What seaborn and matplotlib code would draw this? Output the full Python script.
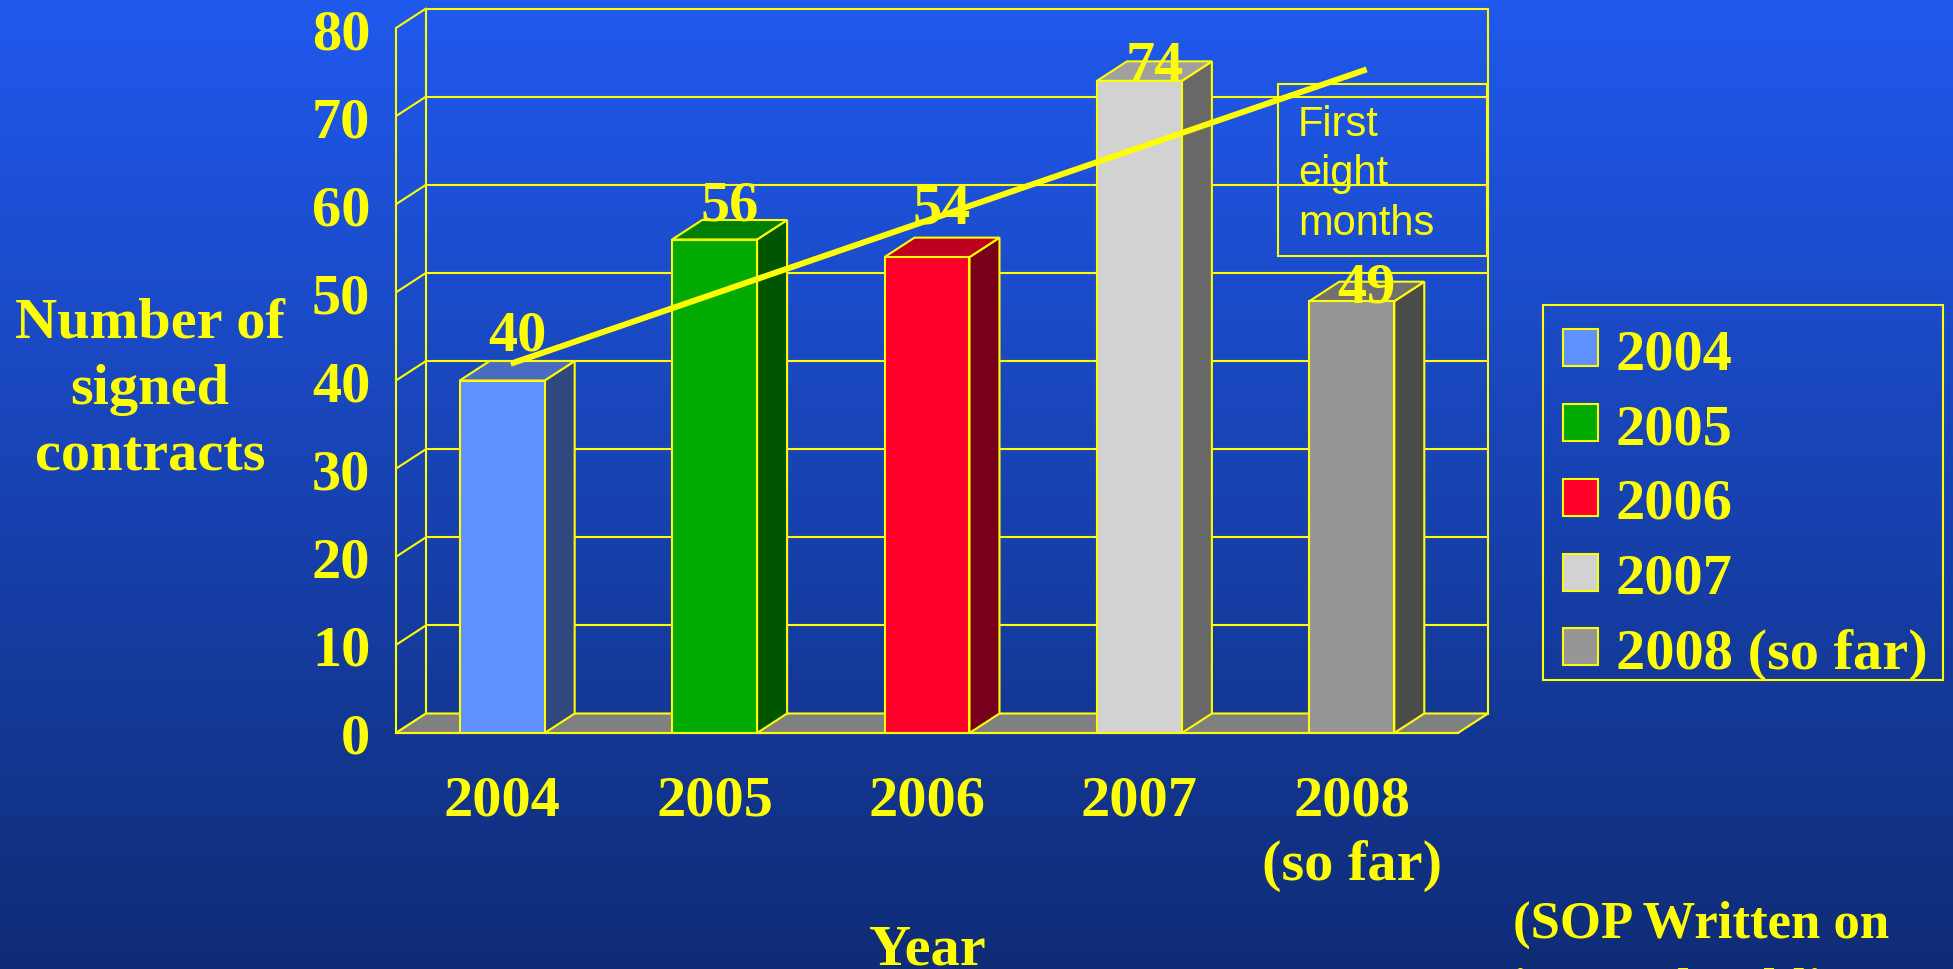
import numpy as np
import pandas as pd
import matplotlib
matplotlib.use("Agg")
import matplotlib.pyplot as plt
import seaborn as sns
from matplotlib.colors import LinearSegmentedColormap
from matplotlib.patches import Polygon, Patch, Rectangle


# data
years = ["2004", "2005", "2006", "2007", "2008\n(so far)"]
legend_labels = ["2004", "2005", "2006", "2007", "2008 (so far)"]
contracts = [40, 56, 54, 74, 49]
# labels on the slide were nudged by hand
label_lift = [3.5, 2.3, 3.9, 0.1, 0.0]
# hand drawn trend arrow (category index, value)
trend_x = [0.04, 4.07]
trend_y = [41.9, 75.3]

front_colors = ["#6190FF", "#00AA00", "#FF0028", "#D2D2D2", "#969696"]
side_colors = ["#30487E", "#005500", "#78001A", "#686868", "#4B4B4B"]
top_colors = ["#4A6CC0", "#008000", "#BE0020", "#A0A0A0", "#707070"]

YEL = "#FFFF00"
W, H = 1953, 970
FS = 42

sns.set_style("white")
plt.rcParams["font.family"] = ["Liberation Serif", "DejaVu Serif"]
plt.rcParams["font.weight"] = "bold"

df = pd.DataFrame({"year": years, "contracts": contracts})

fig = plt.figure(figsize=(W / 100, H / 100), dpi=100)

# gradient background
bg = fig.add_axes([0, 0, 1, 1], zorder=-10)
grad = np.linspace(0, 1, 256)[:, None]
bg.imshow(grad, aspect="auto", extent=[0, 1, 0, 1], origin="upper",
          cmap=LinearSegmentedColormap.from_list("bg", ["#2059EE", "#0F2C76"]))
bg.axis("off")

# front plane of the 3d box
ax = fig.add_axes([396 / W, (H - 734) / H, 1062 / W, 705 / H])
ax.set_facecolor("none")

sns.barplot(data=df, x="year", y="contracts", hue="year", palette=front_colors,
            width=0.4, saturation=1, legend=False, edgecolor=YEL, linewidth=1.5,
            ax=ax, zorder=4)

ax.set_xlim(-0.5, 4.5)
ax.set_ylim(0, 80)
n = len(years)

# depth of the fake 3d box in data units (30 px right, 19.5 px up)
ddx = 30 * (n / 1062)
ddy = 19.5 * (80 / 705)

# back wall, side wall and floor
for v in range(0, 81, 10):
    ax.plot([-0.5 + ddx, n - 0.5 + ddx], [v + ddy, v + ddy], color=YEL, lw=1.5,
            clip_on=False, zorder=1)
    ax.plot([-0.5, -0.5 + ddx], [v, v + ddy], color=YEL, lw=1.5, clip_on=False, zorder=1)
for xb in [-0.5 + ddx, n - 0.5 + ddx]:
    ax.plot([xb, xb], [ddy, 80 + ddy], color=YEL, lw=1.5, clip_on=False, zorder=1)
floor = Polygon([(-0.5, 0), (n - 0.5, 0), (n - 0.5 + ddx, ddy), (-0.5 + ddx, ddy)],
                closed=True, facecolor="#808080", edgecolor=YEL, lw=1.5,
                clip_on=False, zorder=2)
ax.add_patch(floor)

# sides and tops of the bars
for i, p in enumerate(list(ax.patches)[:n]):
    x0, w, v = p.get_x(), p.get_width(), p.get_height()
    x1 = x0 + w
    side = Polygon([(x1, 0), (x1 + ddx, ddy), (x1 + ddx, v + ddy), (x1, v)],
                   closed=True, facecolor=side_colors[i], edgecolor=YEL, lw=1.5,
                   clip_on=False, zorder=3)
    top = Polygon([(x0, v), (x1, v), (x1 + ddx, v + ddy), (x0 + ddx, v + ddy)],
                  closed=True, facecolor=top_colors[i], edgecolor=YEL, lw=1.5,
                  clip_on=False, zorder=3)
    ax.add_patch(side)
    ax.add_patch(top)
    ax.text(x0 + w / 2 + ddx / 2, v + label_lift[i], str(contracts[i]), ha="center",
            va="baseline", fontsize=FS, color=YEL, zorder=6)

ax.plot(trend_x, trend_y, color=YEL, lw=4.3, solid_capstyle="butt",
        clip_on=False, zorder=7)

# axes
for s in ["top", "right"]:
    ax.spines[s].set_visible(False)
for s in ["left", "bottom"]:
    ax.spines[s].set_color(YEL)
    ax.spines[s].set_linewidth(1.5)
    ax.spines[s].set_zorder(5)
ax.set_yticks(range(0, 81, 10))
ax.set_xticks(range(n))
ax.set_xticklabels(years, linespacing=1.3)
ax.set_xticks(np.arange(-0.5, n), minor=True)
ax.tick_params(axis="y", length=11.5, width=1.5, color=YEL, labelcolor=YEL,
               labelsize=FS, pad=7)
ax.tick_params(axis="x", which="major", length=0, labelcolor=YEL, labelsize=FS, pad=30)
ax.tick_params(axis="x", which="minor", length=11, width=1.5, color=YEL, direction="out")
ax.set_xlabel("")
ax.set_ylabel("")

fig.text(150 / W, 1 - 390 / H, "Number of\nsigned\ncontracts", ha="center",
         va="center", fontsize=FS, color=YEL, linespacing=1.36)
fig.text(927 / W, 1 - 965 / H, "Year", ha="center", va="baseline", fontsize=FS, color=YEL)
fig.text(1513 / W, 1 - 901 / H, "(SOP Written on\ninternal public", ha="left",
         va="top", fontsize=38, color=YEL, linespacing=1.5)

# note box
fig.patches.append(Rectangle((1278 / W, 1 - 257 / H), 209 / W, 172 / H,
                             transform=fig.transFigure, facecolor="none",
                             edgecolor=YEL, lw=1.5, zorder=5))
fig.text(1298 / W, 1 - 105 / H, "First\neight\nmonths", ha="left", va="top",
         fontsize=30, color=YEL, fontweight="normal",
         family=["Liberation Sans", "DejaVu Sans"], linespacing=1.30, zorder=6)

# legend box drawn separately so its size can match the slide
fig.patches.append(Rectangle((1543 / W, 1 - 681 / H), 400 / W, 375 / H,
                             transform=fig.transFigure, facecolor="none",
                             edgecolor=YEL, lw=1.5, zorder=5))
handles = [Patch(facecolor=c, edgecolor=YEL, lw=1.5) for c in front_colors]
leg = fig.legend(handles, legend_labels, loc="upper left",
                 bbox_to_anchor=(1543 / W, 1 - 309 / H), bbox_transform=fig.transFigure,
                 frameon=False, fontsize=FS, labelcolor=YEL, handlelength=0.6,
                 handleheight=0.6, handletextpad=0.3, labelspacing=0.39,
                 borderpad=0.35, borderaxespad=0)

fig.savefig("out.png", dpi=100)
